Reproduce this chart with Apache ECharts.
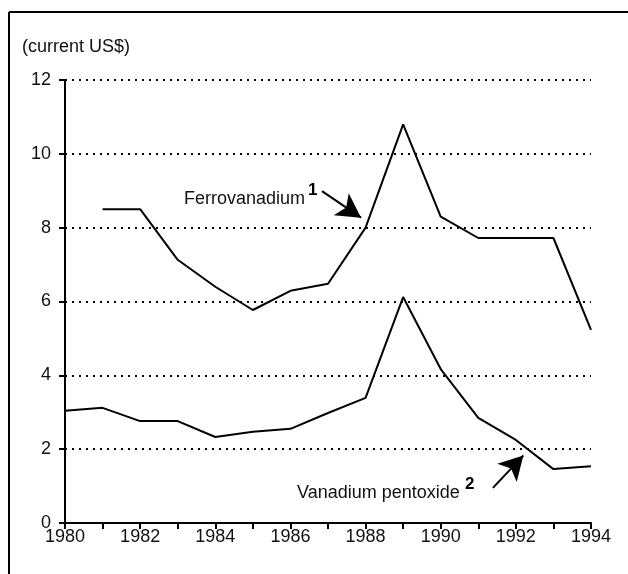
<!DOCTYPE html>
<html>
<head>
<meta charset="utf-8">
<script src="https://cdn.jsdelivr.net/npm/echarts@6/dist/echarts.min.js"></script>
<style>
  html, body { margin: 0; padding: 0; background: #fff; }
  #chart { width: 628px; height: 574px; }
</style>
</head>
<body>
<div id="chart"></div>
<script>
  // years and prices (current US$)
  var ferroYears = [1981, 1982, 1983, 1984, 1985, 1986, 1987, 1988, 1989, 1990, 1991, 1992, 1993, 1994];
  var ferroValues = [8.5, 8.5, 7.13, 6.4, 5.77, 6.29, 6.48, 8.0, 10.8, 8.3, 7.72, 7.72, 7.72, 5.23];
  var pentYears = [1980, 1981, 1982, 1983, 1984, 1985, 1986, 1987, 1988, 1989, 1990, 1991, 1992, 1993, 1994];
  var pentValues = [3.04, 3.12, 2.76, 2.76, 2.33, 2.47, 2.55, 2.98, 3.39, 6.12, 4.17, 2.85, 2.25, 1.46, 1.54];
  var yTicks = [0, 2, 4, 6, 8, 10, 12];

  var font = '"Liberation Sans", Arial, sans-serif';
  var txt = '#111';

  function pairs(xs, ys) {
    var out = [];
    xs.forEach(function (x, i) { out.push([x, ys[i]]); });
    return out;
  }

  var chart = echarts.init(document.getElementById('chart'));
  chart.setOption({
    backgroundColor: '#fff',
    animation: false,
    grid: { left: 65, right: 37, top: 80, bottom: 51 },
    xAxis: {
      type: 'value',
      min: 1980, max: 1994, interval: 1,
      axisLine: { lineStyle: { color: '#000', width: 2 } },
      axisTick: { length: 6, lineStyle: { color: '#000', width: 2 } },
      axisLabel: {
        color: txt, fontSize: 18, fontFamily: font, margin: 5,
        formatter: function (v) { return v % 2 === 0 ? String(v) : ''; }
      },
      splitLine: { show: false }
    },
    yAxis: {
      type: 'value',
      min: yTicks[0], max: yTicks[yTicks.length - 1], interval: 2,
      axisLine: { show: true, lineStyle: { color: '#000', width: 2 } },
      axisTick: { show: true, length: 6, lineStyle: { color: '#000', width: 2 } },
      axisLabel: { color: txt, fontSize: 18, fontFamily: font, margin: 14 },
      splitLine: { lineStyle: { color: '#000', width: 2, type: [2, 5] } }
    },
    graphic: [
      { type: 'line', silent: true, shape: { x1: 9, y1: 12, x2: 9, y2: 574 }, style: { stroke: '#000', lineWidth: 2 } },
      { type: 'line', silent: true, shape: { x1: 9, y1: 12, x2: 628, y2: 12 }, style: { stroke: '#000', lineWidth: 2 } },
      { type: 'text', left: 22, top: 38, style: { text: '(current US$)', fill: txt, font: '18px ' + font } },
      { type: 'text', left: 184, top: 190, style: { text: 'Ferrovanadium', fill: txt, font: '18px ' + font } },
      { type: 'text', left: 308, top: 182, style: { text: '1', fill: '#000', font: 'bold 17px ' + font } },
      { type: 'text', left: 297, top: 484, style: { text: 'Vanadium pentoxide', fill: txt, font: '18px ' + font } },
      { type: 'text', left: 465, top: 476, style: { text: '2', fill: '#000', font: 'bold 17px ' + font } }
    ],
    series: [
      {
        name: 'Ferrovanadium', type: 'line',
        data: pairs(ferroYears, ferroValues),
        showSymbol: false,
        lineStyle: { color: '#000', width: 2 },
        markLine: {
          silent: true, symbol: ['none', 'arrow'], symbolSize: [20, 24],
          lineStyle: { color: '#000', width: 2, type: 'solid' },
          label: { show: false },
          data: [[{ coord: [1986.84, 8.99] }, { coord: [1987.88, 8.27] }]]
        }
      },
      {
        name: 'Vanadium pentoxide', type: 'line',
        data: pairs(pentYears, pentValues),
        showSymbol: false,
        lineStyle: { color: '#000', width: 2 },
        markLine: {
          silent: true, symbol: ['none', 'arrow'], symbolSize: [20, 24],
          lineStyle: { color: '#000', width: 2, type: 'solid' },
          label: { show: false },
          data: [[{ coord: [1991.39, 0.95] }, { coord: [1992.2, 1.83] }]]
        }
      }
    ]
  });
</script>
</body>
</html>
